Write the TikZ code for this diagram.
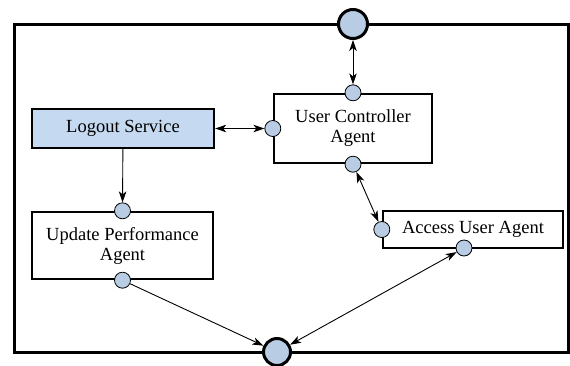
\documentclass[tikz,border=0pt]{standalone}
\usepackage{fontspec}
\setmainfont{Liberation Serif}
\usetikzlibrary{arrows.meta}
\definecolor{portblue}{RGB}{184,204,228}
\definecolor{serviceblue}{RGB}{197,217,241}

\begin{document}
\begin{tikzpicture}[
  x=1pt,y=-1pt,
  font=\fontsize{18.5}{20}\selectfont,
  agent/.style={rectangle,draw=black,line width=2.4pt,fill=white,inner sep=0pt,align=center},
  service/.style={agent,fill=serviceblue},
  port/.style={circle,draw=black,line width=0.8pt,fill=portblue,inner sep=0pt,minimum size=16pt},
  hub/.style={circle,draw=black,line width=3pt,fill=portblue,inner sep=0pt},
  frame/.style={draw=black,line width=3pt},
  link/.style={-{Stealth[length=11pt,width=7.5pt,inset=3pt]},line width=0.9pt},
  biglink/.style={{Stealth[length=11pt,width=7.5pt,inset=3pt]}-{Stealth[length=11pt,width=7.5pt,inset=3pt]},line width=0.9pt}]
  \useasboundingbox (0,0) rectangle (570,365);
  % platform boundary with its two outside hubs
  \draw[frame] (14.5,24) rectangle (568.5,352);
  \node[hub,minimum size=29pt] (tophub) at (353,24) {};
  \node[hub,minimum size=27pt] (bothub) at (277,352) {};
  % agents and service
  \node[agent,minimum width=158pt,minimum height=69pt] (ucagent) at (353,128.5) {User Controller\\Agent};
  \node[service,minimum width=182pt,minimum height=39pt] (logout) at (123,128.5) {Logout Service};
  \node[agent,minimum width=181pt,minimum height=67pt] (update) at (122.5,245.5) {Update Performance\\Agent};
  \node[agent,minimum width=180pt,minimum height=37pt] (access) at (473,229.5) {Access User Agent};
  % ports
  \node[port] (ucN) at (ucagent.north) {};
  \node[port] (ucW) at (ucagent.west) {};
  \node[port] (ucS) at (ucagent.south) {};
  \node[port] (updN) at (update.north) {};
  \node[port] (updS) at (update.south) {};
  \node[port] (accW) at (access.west) {};
  \node[port] (accS) at (464,248) {};
  % connectors
  \draw[biglink] (tophub)--(ucN);
  \draw[biglink] (logout)--(ucW);
  \draw[link] (logout)--(updN);
  \draw[biglink] (ucS)--(accW);
  \draw[link] (updS)--(bothub);
  \draw[biglink] (accS)--(bothub);
\end{tikzpicture}
\end{document}
